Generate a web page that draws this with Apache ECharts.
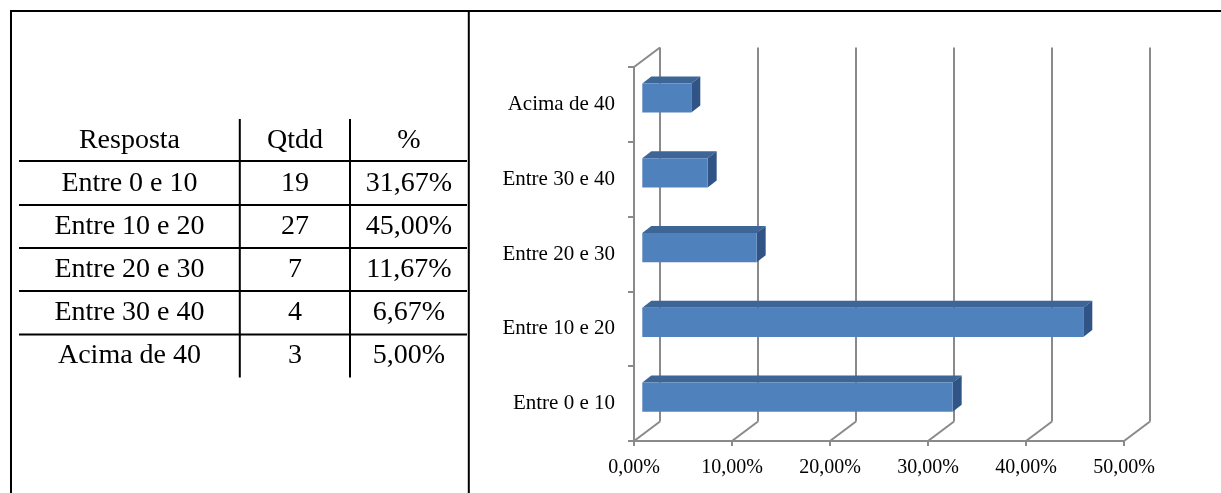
<!DOCTYPE html>
<html>
<head>
<meta charset="utf-8">
<title>Faixa etária</title>
<script src="https://cdn.jsdelivr.net/npm/echarts@6/dist/echarts.min.js"></script>
<style>
  html, body { margin: 0; padding: 0; background: #ffffff; }
  #chart { width: 1221px; height: 493px; }
</style>
</head>
<body>
<div id="chart"></div>
<script>
// Answers and counts (bottom-to-top order on the chart, top-to-bottom in the table)
const categories = ['Entre 0 e 10', 'Entre 10 e 20', 'Entre 20 e 30', 'Entre 30 e 40', 'Acima de 40'];
const quantities = [19, 27, 7, 4, 3];
const percentValues = [31.67, 45.00, 11.67, 6.67, 5.00];
const tableHeader = ['Resposta', 'Qtdd', '%'];
const xTickValues = [0, 10, 20, 30, 40, 50];
const xTickLabels = ['0,00%', '10,00%', '20,00%', '30,00%', '40,00%', '50,00%'];

const SERIF = '"Liberation Serif", "Times New Roman", serif';
const AXIS_GRAY = '#8a8a8a';
const FRONT = '#4F81BD';
const TOP = '#3D6696';
const SIDE = '#2F5485';
// depth of the 3D box (back wall relative to front plane)
const DEPTH = [26, -19.5];
// bar front face sits part-way into the box; its own depth
const FACE_SHIFT = [8.3, -6.4];
const BAR_DEPTH = [9, -7];

function pct(v) { return v.toFixed(2).replace('.', ',') + '%'; }

// ---- table and frame drawn as graphic elements ----
const colCenters = [129.5, 295, 409];
const rowCenters = [141, 184, 227, 270, 313, 356];
const hLines = [161, 205, 248, 291, 334.5];
const graphics = [];
function line(x1, y1, x2, y2) {
  graphics.push({ type: 'line', silent: true,
    shape: { x1, y1, x2, y2 },
    style: { stroke: '#000', lineWidth: 2 } });
}
// outer frame
line(10, 11, 1221, 11);
line(11, 10, 11, 493);
line(468.8, 10, 468.8, 493);
// table rules
hLines.forEach(y => line(19, y, 467, y));
line(239.8, 119, 239.8, 377.5);
line(350, 119, 350, 377.5);
function cell(text, x, y) {
  graphics.push({ type: 'text', silent: true, x, y,
    style: { text, font: '28px ' + SERIF, fill: '#000', align: 'center', verticalAlign: 'middle' } });
}
tableHeader.forEach((t, c) => cell(t, colCenters[c], rowCenters[0]));
categories.forEach((name, r) => {
  cell(name, colCenters[0], rowCenters[r + 1]);
  cell(String(quantities[r]), colCenters[1], rowCenters[r + 1]);
  cell(pct(percentValues[r]), colCenters[2], rowCenters[r + 1]);
});

const chart = echarts.init(document.getElementById('chart'), null, { renderer: 'canvas' });

chart.setOption({
  animation: false,
  backgroundColor: '#ffffff',
  graphic: graphics,
  grid: [
    { left: 634, top: 67, width: 490, height: 374, containLabel: false },
    { left: 634 + DEPTH[0], top: 67 + DEPTH[1], width: 490, height: 374, containLabel: false }
  ],
  xAxis: [
    {
      gridIndex: 0, type: 'value', min: 0, max: 50, interval: 10,
      axisLine: { show: true, lineStyle: { color: AXIS_GRAY, width: 2 } },
      axisTick: { show: true, length: 5, lineStyle: { color: AXIS_GRAY, width: 2 } },
      splitLine: { show: false },
      axisLabel: {
        color: '#000', fontFamily: SERIF, fontSize: 20, margin: 17,
        formatter: v => xTickLabels[xTickValues.indexOf(v)]
      }
    },
    {
      gridIndex: 1, type: 'value', min: 0, max: 50, interval: 10,
      axisLine: { show: false }, axisTick: { show: false }, axisLabel: { show: false },
      splitLine: { show: true, lineStyle: { color: AXIS_GRAY, width: 2 } }
    }
  ],
  yAxis: [
    {
      gridIndex: 0, type: 'category', data: categories,
      axisLine: { show: true, lineStyle: { color: AXIS_GRAY, width: 2 } },
      axisTick: { show: true, length: 6, lineStyle: { color: AXIS_GRAY, width: 2 } },
      splitLine: { show: false },
      axisLabel: { color: '#000', fontFamily: SERIF, fontSize: 21, margin: 19 }
    },
    {
      gridIndex: 1, type: 'category', data: categories, show: false
    }
  ],
  series: [
    {
      // floor and wall edges linking the front axes to the back wall
      type: 'custom', xAxisIndex: 0, yAxisIndex: 0, clip: false, silent: true, z: 3,
      data: xTickValues.map(v => [v, 0]),
      encode: { x: 0, y: 1 },
      renderItem: function (params, api) {
        const cs = params.coordSys;
        const x = api.coord([api.value(0), 0])[0];
        const bottom = cs.y + cs.height;
        const children = [{
          type: 'line',
          shape: { x1: x, y1: bottom, x2: x + DEPTH[0], y2: bottom + DEPTH[1] },
          style: { stroke: AXIS_GRAY, lineWidth: 2 }
        }];
        if (params.dataIndex === 0) {
          children.push({
            type: 'line',
            shape: { x1: cs.x, y1: cs.y, x2: cs.x + DEPTH[0], y2: cs.y + DEPTH[1] },
            style: { stroke: AXIS_GRAY, lineWidth: 2 }
          });
        }
        return { type: 'group', children };
      }
    },
    {
      // 3D bars: front face, top face and right side
      type: 'custom', xAxisIndex: 0, yAxisIndex: 0, clip: false, z: 5,
      data: categories.map((c, i) => [percentValues[i], i]),
      encode: { x: 0, y: 1 },
      renderItem: function (params, api) {
        const v = api.value(0), i = api.value(1);
        const base = api.coord([0, i]);
        const end = api.coord([v, i]);
        const band = api.size([0, 1])[1];
        const h = band * 0.39;
        const fx = base[0] + FACE_SHIFT[0];
        const cy = base[1] + FACE_SHIFT[1];
        const w = end[0] - base[0];
        const top = cy - h / 2, bottom = cy + h / 2;
        const dx = BAR_DEPTH[0], dy = BAR_DEPTH[1];
        return {
          type: 'group',
          children: [
            { type: 'polygon',
              shape: { points: [[fx, top], [fx + w, top], [fx + w + dx, top + dy], [fx + dx, top + dy]] },
              style: { fill: TOP } },
            { type: 'polygon',
              shape: { points: [[fx + w, top], [fx + w + dx, top + dy], [fx + w + dx, bottom + dy], [fx + w, bottom]] },
              style: { fill: SIDE } },
            { type: 'rect',
              shape: { x: fx, y: top, width: w, height: h },
              style: { fill: FRONT } }
          ]
        };
      }
    }
  ]
});
</script>
</body>
</html>
